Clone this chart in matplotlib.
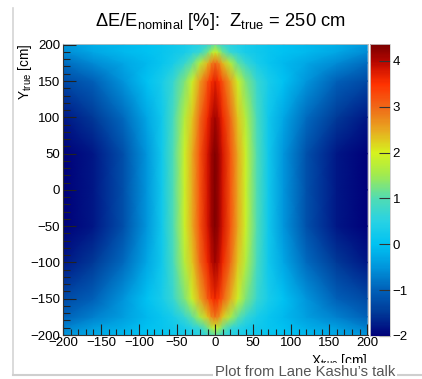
import numpy as np
import matplotlib
matplotlib.use('Agg')
import matplotlib.pyplot as plt
from matplotlib.colors import LinearSegmentedColormap
from matplotlib.lines import Line2D
from matplotlib.ticker import MultipleLocator

###############################################################################

# Sample points (cm); the map is symmetric in X so only X >= 0 is listed
x_half = [0, 5, 10, 20, 30, 40, 55, 70, 90, 120, 160, 200]
y_nodes = [-200, -190, -175, -150, -100, -50, 0, 50, 100, 150, 175, 190, 200]

# dE/E_nominal [%], one row per y_nodes entry
dE_half = [
    [1.1, 0.9, 0.7, 0.5, 0.4, 0.3, 0.2, 0.1, 0.0, -0.1, -0.3, -0.5],
    [1.9, 1.6, 1.2, 0.7, 0.5, 0.3, 0.2, 0.1, 0.0, -0.2, -0.4, -0.7],
    [2.9, 2.7, 2.3, 1.6, 1.1, 0.7, 0.3, 0.1, -0.1, -0.4, -0.7, -1.0],
    [3.6, 3.4, 3.1, 2.5, 1.9, 1.3, 0.7, 0.3, 0.0, -0.5, -1.0, -1.3],
    [4.1, 3.9, 3.6, 3.0, 2.3, 1.7, 0.9, 0.2, -0.3, -0.9, -1.5, -1.8],
    [4.3, 4.1, 3.8, 3.2, 2.5, 1.9, 1.0, 0.2, -0.5, -1.2, -1.8, -2.0],
    [4.3, 4.1, 3.8, 3.2, 2.5, 1.9, 1.0, 0.2, -0.5, -1.2, -1.8, -2.0],
    [4.3, 4.1, 3.8, 3.2, 2.5, 1.9, 1.0, 0.2, -0.5, -1.2, -1.8, -2.0],
    [4.1, 3.9, 3.6, 3.0, 2.3, 1.7, 0.9, 0.2, -0.3, -0.9, -1.5, -1.8],
    [3.7, 3.5, 3.2, 2.6, 1.9, 1.3, 0.7, 0.3, 0.0, -0.5, -1.0, -1.3],
    [3.0, 2.8, 2.4, 1.7, 1.1, 0.7, 0.3, 0.1, -0.1, -0.3, -0.6, -0.9],
    [1.9, 1.6, 1.2, 0.7, 0.5, 0.3, 0.2, 0.1, 0.0, -0.1, -0.3, -0.6],
    [1.2, 0.9, 0.7, 0.5, 0.4, 0.3, 0.2, 0.1, 0.0, -0.1, -0.2, -0.5],
]

z_min, z_max = -2.0, 4.37

# ROOT-like rainbow palette, anchored at z values
pal_vals = [-2.0, -1.5, -1.0, -0.5, 0.0, 0.5, 1.0, 1.5, 2.0, 2.5, 3.0, 3.5,
            3.8, 4.0, 4.37]
pal_cols = ['#00007a', '#003a98', '#0060b8', '#0096dc', '#00c2f2', '#28d2e4',
            '#50dcb4', '#a0ea50', '#d6f21e', '#e8a820', '#f06818', '#ff3200',
            '#d81800', '#b40600', '#7a0000']

###############################################################################

plt.rcParams['font.family'] = ['Liberation Sans', 'DejaVu Sans']
plt.rcParams['mathtext.fontset'] = 'custom'
plt.rcParams['mathtext.rm'] = 'Liberation Sans'
plt.rcParams['mathtext.it'] = 'Liberation Sans'
plt.rcParams['mathtext.default'] = 'regular'

cmap = LinearSegmentedColormap.from_list(
    'rootpal',
    [((v - z_min) / (z_max - z_min), c) for v, c in zip(pal_vals, pal_cols)])

# Mirror the half table to cover the full X range
x_full = np.concatenate([-np.array(x_half[:0:-1]), x_half])
z_half = np.array(dE_half)
z_full = np.hstack([z_half[:, :0:-1], z_half])
X, Y = np.meshgrid(x_full, y_nodes)

W, H = 422, 379
fig = plt.figure(figsize=(W / 100, H / 100), dpi=100)

ax = fig.add_axes([63 / W, 1 - 335 / H, 305 / W, 291 / H])
mesh = ax.pcolormesh(X, Y, z_full, shading='gouraud', cmap=cmap,
                     vmin=z_min, vmax=z_max)
ax.set_xlim(-200, 201)
ax.set_ylim(-200, 201)

ax.xaxis.set_major_locator(MultipleLocator(50))
ax.xaxis.set_minor_locator(MultipleLocator(10))
ax.yaxis.set_major_locator(MultipleLocator(50))
ax.yaxis.set_minor_locator(MultipleLocator(10))
ax.tick_params(axis='x', which='major', direction='in', length=8, width=0.8,
               labelsize=9.5, pad=1.5, color='#222222')
ax.tick_params(axis='x', which='minor', direction='in', length=4, width=0.8,
               color='#222222')
ax.tick_params(axis='y', which='major', direction='in', length=9, width=0.8,
               labelsize=9.5, pad=2, color='#222222')
ax.tick_params(axis='y', which='minor', direction='in', length=5, width=0.8,
               color='#222222')
for side in ['left', 'bottom']:
    ax.spines[side].set_color('#333333')
    ax.spines[side].set_linewidth(0.8)
for side in ['top', 'right']:
    ax.spines[side].set_color('#bbbbbb')
    ax.spines[side].set_linewidth(0.6)

# Palette bar
cax = fig.add_axes([370 / W, 1 - 336 / H, 20 / W, 292 / H])
cb = fig.colorbar(mesh, cax=cax)
cb.set_ticks([-2, -1, 0, 1, 2, 3, 4])
cb.ax.tick_params(direction='in', length=8, width=0.8, labelsize=9.5, pad=2,
                  color='#333333')
cb.outline.set_edgecolor('#cccccc')
cb.outline.set_linewidth(0.6)

# Titles
fig.text(220 / W, 1 - 22 / H,
         r'$\Delta$E/E$_{\mathrm{nominal}}$ [%]:  Z$_{\mathrm{true}}$ = 250 cm',
         ha='center', va='center', fontsize=13.2)
fig.text(25 / W, 1 - 43 / H, r'Y$_{\mathrm{true}}$ [cm]', rotation=90,
         ha='center', va='top', fontsize=9.8)
fig.text(368 / W, 1 - 361 / H, r'X$_{\mathrm{true}}$ [cm]',
         ha='right', va='center', fontsize=9.8)

# Card border from the original screenshot
fig.add_artist(Line2D([13 / W, 13 / W], [1 - 8 / H, 1 - 375 / H],
                      transform=fig.transFigure, color='#d4d4d4', lw=1.2))
fig.add_artist(Line2D([13 / W, 1.0], [1 - 375 / H, 1 - 375 / H],
                      transform=fig.transFigure, color='#cfcfcf', lw=1.5))

fig.text(395 / W, 1 - 372 / H, 'Plot from Lane Kashu\u2019s talk',
         ha='right', va='center', fontsize=10.6, color='#555555',
         bbox={'facecolor': 'white', 'edgecolor': 'none', 'pad': 1.5})

fig.savefig('out.png', dpi=100)
